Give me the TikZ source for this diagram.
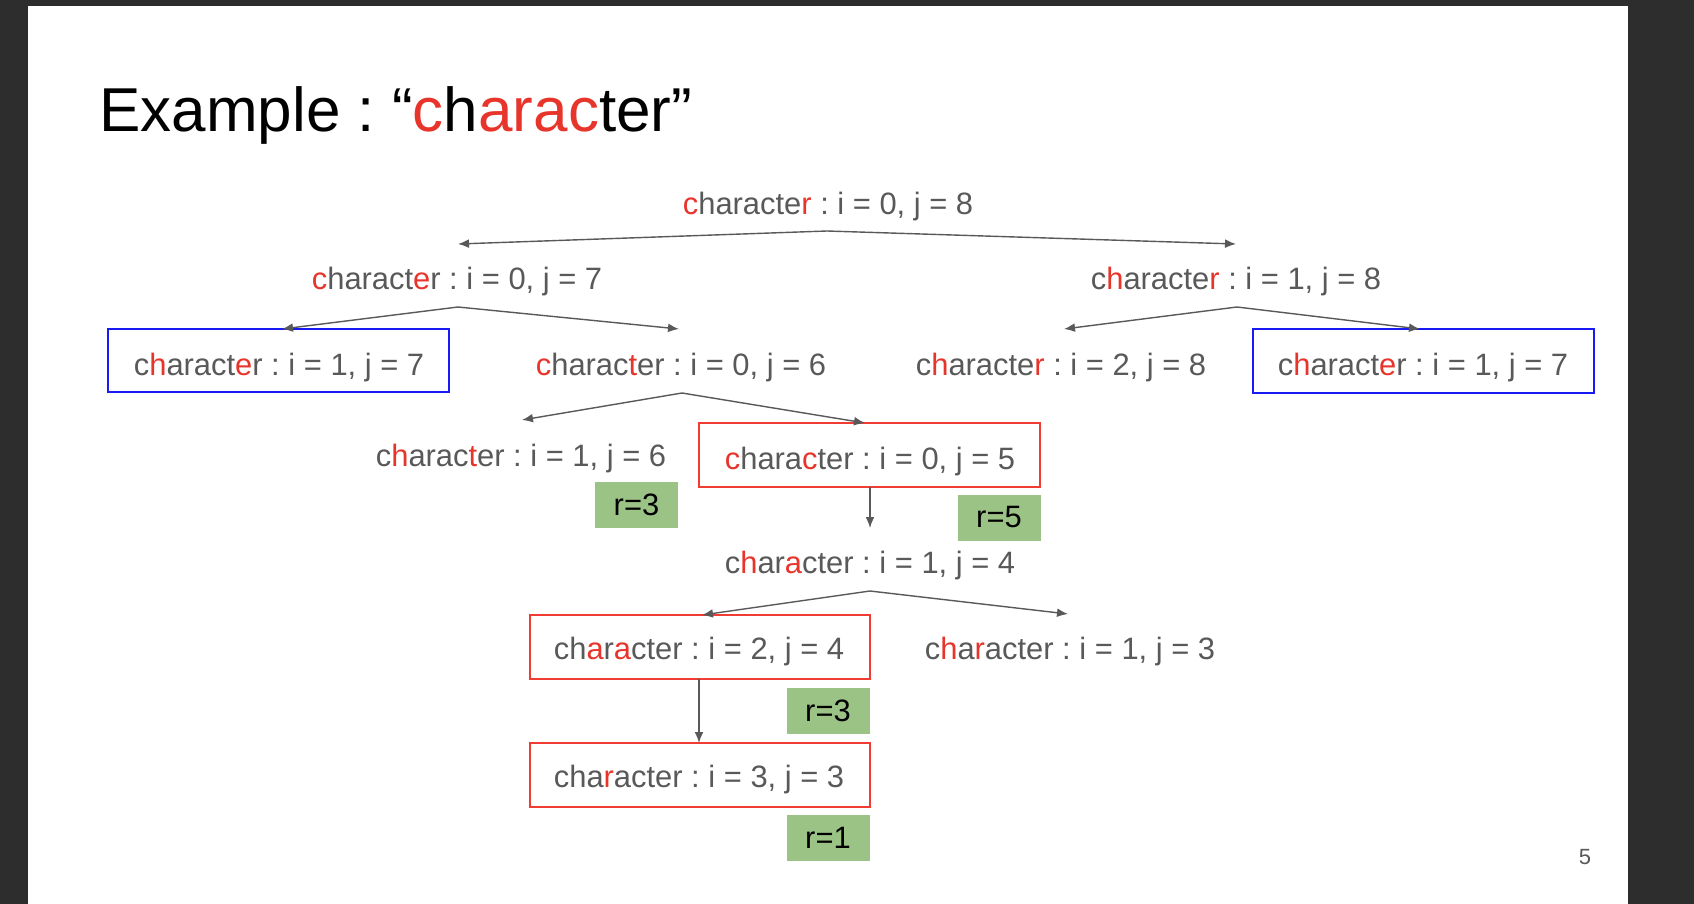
\documentclass[tikz,border=0pt]{standalone}
\usepackage{fontspec}
\setmainfont{Liberation Sans}
\usetikzlibrary{arrows.meta,fit}
\definecolor{txtgray}{HTML}{595959}
\definecolor{hired}{HTML}{E8352B}
\definecolor{boxred}{HTML}{F03C32}
\definecolor{boxblue}{HTML}{1A1AF5}
\definecolor{rgreen}{HTML}{9CC386}
\definecolor{bgdark}{HTML}{2D2D2D}
\definecolor{linegray}{HTML}{595959}
\newcommand\rd[1]{\textcolor{hired}{#1}}
\frenchspacing
\begin{document}
\begin{tikzpicture}[x=0.5pt,y=-0.5pt,
  lbl/.style={inner sep=0pt, anchor=base, text=txtgray, font=\fontsize{15.45pt}{18pt}\selectfont},
  conn/.style={draw=linegray, line width=0.7pt, -{Latex[length=5.5pt,width=4.4pt]}},
  bluebox/.style={draw=boxblue, line width=1pt, inner sep=0pt},
  redbox/.style={draw=boxred, line width=1pt, inner sep=0pt},
  rbox/.style={fill=rgreen, inner sep=0pt, text=black, minimum width=41.5pt, minimum height=23pt, font=\fontsize{15.45pt}{18pt}\selectfont},
]
\useasboundingbox (0,0) rectangle (1694,904);
\fill[bgdark] (0,0) rectangle (1694,904);
\fill[white] (28,6) rectangle (1628,904);

% title
\node[anchor=base west, inner sep=0pt, font=\fontsize{31pt}{36pt}\selectfont] (title) at (99,132) {Example : “\rd{c}h\rd{arac}ter”};

% boxes
\coordinate (b1a) at (108,329); \coordinate (b1b) at (449,392);
\node[bluebox, fit=(b1a)(b1b)] (boxLL) {};
\coordinate (b2a) at (1253,329); \coordinate (b2b) at (1594,393);
\node[bluebox, fit=(b2a)(b2b)] (boxRR) {};
\coordinate (b3a) at (699,423); \coordinate (b3b) at (1040,487);
\node[redbox, fit=(b3a)(b3b)] (boxLRR) {};
\coordinate (b4a) at (530,615); \coordinate (b4b) at (870,679);
\node[redbox, fit=(b4a)(b4b)] (boxNL) {};
\coordinate (b5a) at (530,743); \coordinate (b5b) at (870,807);
\node[redbox, fit=(b5a)(b5b)] (boxNLL) {};

% labels
\node[lbl] (root) at (828,214) {\rd{c}haracte\rd{r} : i = 0, j = 8};
\node[lbl] (L1) at (457,290) {\rd{c}haract\rd{e}r : i = 0, j = 7};
\node[lbl] (R1) at (1236,289) {c\rd{h}aracte\rd{r} : i = 1, j = 8};
\node[lbl] (LL) at (279,375) {c\rd{h}aract\rd{e}r : i = 1, j = 7};
\node[lbl] (LR) at (681,375) {\rd{c}harac\rd{t}er : i = 0, j = 6};
\node[lbl] (RL) at (1061,375) {c\rd{h}aracte\rd{r} : i = 2, j = 8};
\node[lbl] (RR) at (1423,375) {c\rd{h}aract\rd{e}r : i = 1, j = 7};
\node[lbl] (LRL) at (521,466) {c\rd{h}arac\rd{t}er : i = 1, j = 6};
\node[lbl] (LRR) at (870,469) {\rd{c}hara\rd{c}ter : i = 0, j = 5};
\node[lbl] (N) at (870,573) {c\rd{h}ar\rd{a}cter : i = 1, j = 4};
\node[lbl] (NL) at (699,659) {ch\rd{a}r\rd{a}cter : i = 2, j = 4};
\node[lbl] (NR) at (1070,659) {c\rd{h}a\rd{r}acter : i = 1, j = 3};
\node[lbl] (NLL) at (699,787) {cha\rd{r}acter : i = 3, j = 3};

% green result boxes
\node[rbox] (r1) at (636.5,505) {r=3};
\node[rbox] (r2) at (999,517.5) {r=5};
\node[rbox] (r3) at (828,710.5) {r=3};
\node[rbox] (r4) at (828,838) {r=1};

% page number
\node[inner sep=0pt, text=txtgray, font=\fontsize{11pt}{13pt}\selectfont] (pg) at (1585,857) {5};

% connector points
\coordinate (a0) at (827,231);
\coordinate (t0l) at (458,244);
\coordinate (t0r) at (1236,244);
\coordinate (a1) at (458,307);
\coordinate (t1l) at (282,329);
\coordinate (t1r) at (679,329);
\coordinate (a2) at (1237,307);
\coordinate (t2l) at (1064,329);
\coordinate (t2r) at (1420,329);
\coordinate (a3) at (682,393);
\coordinate (t3l) at (522,420);
\coordinate (t3r) at (865,423);
\coordinate (s3) at (870,487);
\coordinate (t3d) at (870,528);
\coordinate (a4) at (870,591);
\coordinate (t4l) at (702,615);
\coordinate (t4r) at (1068,614);
\coordinate (s4) at (699,679);
\coordinate (t4d) at (699,743);

\draw[conn] (a0) -- (t0l);
\draw[conn] (a0) -- (t0r);
\draw[conn] (a1) -- (t1l);
\draw[conn] (a1) -- (t1r);
\draw[conn] (a2) -- (t2l);
\draw[conn] (a2) -- (t2r);
\draw[conn] (a3) -- (t3l);
\draw[conn] (a3) -- (t3r);
\draw[conn] (s3) -- (t3d);
\draw[conn] (a4) -- (t4l);
\draw[conn] (a4) -- (t4r);
\draw[conn] (s4) -- (t4d);
\end{tikzpicture}
\end{document}
